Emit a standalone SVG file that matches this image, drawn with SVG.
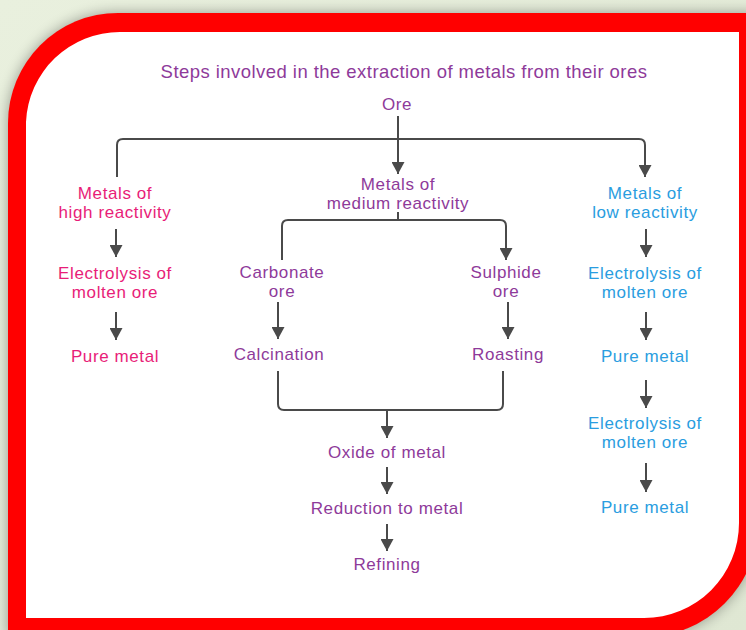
<svg xmlns="http://www.w3.org/2000/svg" width="746" height="630" viewBox="0 0 746 630">
<defs>
<linearGradient id="bg" x1="0" y1="0" x2="1" y2="1">
<stop offset="0" stop-color="#e9f0de"/>
<stop offset="1" stop-color="#dfe7d3"/>
</linearGradient>
<filter id="sh" x="-10%" y="-10%" width="120%" height="120%">
<feGaussianBlur stdDeviation="7"/>
</filter>
<marker id="ah" markerUnits="userSpaceOnUse" markerWidth="13" markerHeight="13" viewBox="0 0 12 13" refX="12" refY="6.5" orient="auto">
<path d="M0,0 L12,6.5 L0,13 Z" fill="#4a4a4a"/>
</marker>
<style>
text{font-family:"Liberation Sans",Arial,Helvetica,sans-serif;font-size:17px;letter-spacing:0.6px;text-anchor:middle}
.pu{fill:#8e3a9a}
.pk{fill:#e81d78}
.bl{fill:#2a9de0}
.ttl{font-size:18.5px;letter-spacing:0.45px}
.c{fill:none;stroke:#4a4a4a;stroke-width:2}
.a{fill:none;stroke:#4a4a4a;stroke-width:2;marker-end:url(#ah)}
</style>
</defs>
<rect width="746" height="630" fill="url(#bg)"/>
<path d="M8,123 A110,110 0 0 1 118,13 H758 V523 A114,114 0 0 1 644,637 H8 Z" fill="#000" opacity="0.35" filter="url(#sh)"/>
<path d="M8,123 A110,110 0 0 1 118,13 H758 V523 A114,114 0 0 1 644,637 H8 Z" fill="#ff0000"/>
<path d="M26,122 A94,94 0 0 1 120,32 H739 V523 A95,95 0 0 1 644,618 H26 Z" fill="#ffffff"/>

<g id="title"><text class="pu ttl" x="404" y="78">Steps involved in the extraction of metals from their ores</text></g>
<g id="ore"><text class="pu" x="397" y="110">Ore</text></g>

<g id="high"><text class="pk" x="115" y="199">Metals of</text><text class="pk" x="115" y="218">high reactivity</text></g>
<g id="high-electrolysis"><text class="pk" x="115" y="279">Electrolysis of</text><text class="pk" x="115" y="298">molten ore</text></g>
<g id="high-pure"><text class="pk" x="115" y="362">Pure metal</text></g>

<g id="medium"><text class="pu" x="398" y="190">Metals of</text><text class="pu" x="398" y="209">medium reactivity</text></g>
<g id="carbonate"><text class="pu" x="282" y="278">Carbonate</text><text class="pu" x="282" y="297">ore</text></g>
<g id="sulphide"><text class="pu" x="506" y="278">Sulphide</text><text class="pu" x="506" y="297">ore</text></g>
<g id="calcination"><text class="pu" x="279" y="360">Calcination</text></g>
<g id="roasting"><text class="pu" x="508" y="360">Roasting</text></g>
<g id="oxide"><text class="pu" x="387" y="458">Oxide of metal</text></g>
<g id="reduction"><text class="pu" x="387" y="514">Reduction to metal</text></g>
<g id="refining"><text class="pu" x="387" y="570">Refining</text></g>

<g id="low"><text class="bl" x="645" y="199">Metals of</text><text class="bl" x="645" y="218">low reactivity</text></g>
<g id="low-electrolysis1"><text class="bl" x="645" y="279">Electrolysis of</text><text class="bl" x="645" y="298">molten ore</text></g>
<g id="low-pure1"><text class="bl" x="645" y="362">Pure metal</text></g>
<g id="low-electrolysis2"><text class="bl" x="645" y="429">Electrolysis of</text><text class="bl" x="645" y="448">molten ore</text></g>
<g id="low-pure2"><text class="bl" x="645" y="513">Pure metal</text></g>

<g id="connectors">
<path class="a" d="M398,116 V174"/>
<path class="a" d="M117,177 V145 Q117,139 123,139 H639 Q645,139 645,145 V177"/>
<path class="c" d="M398,212 V220"/>
<path class="a" d="M282,260 V226 Q282,220 288,220 H500 Q506,220 506,226 V260"/>
<path class="a" d="M116,229 V257"/>
<path class="a" d="M116,312 V340"/>
<path class="a" d="M278,302 V339"/>
<path class="a" d="M508,302 V339"/>
<path class="c" d="M278,371 V404 Q278,410 284,410 H497 Q503,410 503,404 V371"/>
<path class="a" d="M387,410 V438"/>
<path class="a" d="M387,467 V494"/>
<path class="a" d="M387,524 V551"/>
<path class="a" d="M646,229 V257"/>
<path class="a" d="M646,312 V340"/>
<path class="a" d="M646,380 V408"/>
<path class="a" d="M646,463 V492"/>
</g>
</svg>
